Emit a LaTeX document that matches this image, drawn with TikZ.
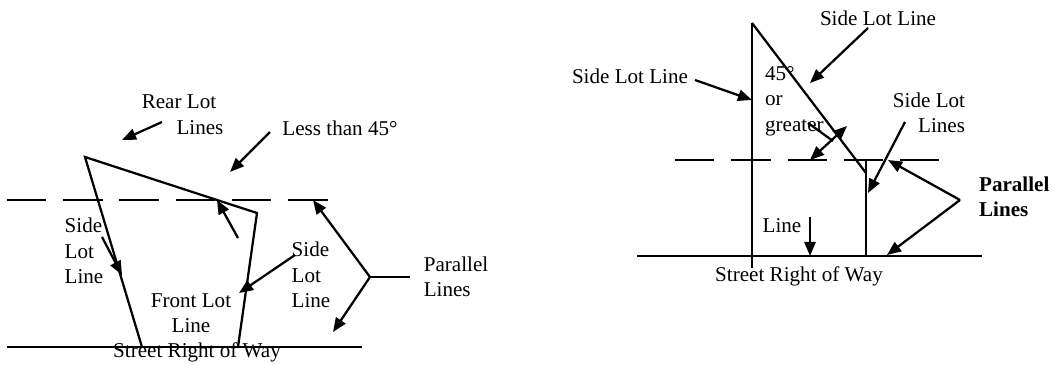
\documentclass[tikz,border=0pt]{standalone}
\usepackage{fontspec}
\setmainfont{Liberation Serif}
\usepackage{tikz}
\usetikzlibrary{arrows.meta, positioning}

\begin{document}
\begin{tikzpicture}[
  x=0.025cm, y=-0.025cm, line width=1.6pt,
  lbl/.style={font=\fontsize{15}{18}\selectfont, inner sep=0pt, align=center},
  ptr/.style={-{Triangle[length=10pt, width=8pt]}, line width=1.6pt},
  dptr/.style={{Triangle[length=10pt, width=8pt]}-{Triangle[length=10pt, width=8pt]}, line width=1.6pt},
  guide/.style={dash pattern=on 28pt off 12pt}
]
\useasboundingbox (0,0) rectangle (1053,364);

% left lot
\coordinate (fl) at (142,347);
\coordinate (rl) at (85,157);
\coordinate (rr) at (257,213);
\coordinate (fr) at (238,347);
\draw[guide] (7,200) coordinate (d1a) -- (333,200) coordinate (d1b);
\draw (7,347) coordinate (s1a) -- (362,347) coordinate (s1b);
\draw[line join=miter] (fl) -- (rl) -- (rr) -- (fr);

\node[lbl] (rear) at (179,102) {Rear Lot};
\node[lbl] (rearb) at (200,128) {Lines};
\node[lbl] (less) at (340,128) {Less than 45°};
\node[lbl, align=left] (lside) at (84,251) {Side\\Lot\\Line};
\node[lbl, align=left] (rside) at (311,275) {Side\\Lot\\Line};
\node[lbl] (front) at (191,313) {Front Lot\\Line};
\node[lbl] (street1) at (197,352) {Street Right of Way};
\node[lbl, align=left] (par1) at (456,277) {Parallel\\Lines};

\coordinate (rearS) at (162,122);   \coordinate (rearE) at (122,140);
\coordinate (lessS) at (270,132);   \coordinate (lessE) at (230,172);
\coordinate (angS) at (238,238);    \coordinate (angE) at (217,200);
\coordinate (lsS) at (102,237);     \coordinate (lsE) at (122,275);
\coordinate (rsS) at (295,255);     \coordinate (rsE) at (239,293);
\coordinate (pj1) at (370,277);     \coordinate (pt1) at (410,277);
\coordinate (pu1) at (313,200);     \coordinate (pd1) at (333,332);

\draw[ptr] (rearS) -- (rearE);
\draw[ptr] (lessS) -- (lessE);
\draw[ptr] (angS) -- (angE);
\draw[ptr] (lsS) -- (lsE);
\draw[ptr] (rsS) -- (rsE);
\draw (pt1) -- (pj1);
\draw[ptr] (pj1) -- (pu1);
\draw[ptr] (pj1) -- (pd1);

% right lot
\coordinate (vt) at (752,23);
\coordinate (vb) at (752,268);
\coordinate (dg) at (866,173);
\coordinate (st) at (866,160);
\coordinate (sb) at (866,256);
\draw[line width=1.9pt] (vt) -- (vb);
\draw (vt) -- (dg);
\draw (st) -- (sb);
\draw[guide] (675,160) coordinate (d2a) -- (943,160) coordinate (d2b);
\draw (637,256) coordinate (s2a) -- (982,256) coordinate (s2b);

\node[lbl] (sidetop) at (878,18) {Side Lot Line};
\node[lbl] (sideleft) at (630,76) {Side Lot Line};
\node[lbl, align=left, anchor=west] (angle) at (764,101) {45°\\or\\greater};
\node[lbl, align=right] (sidelines) at (929,113) {Side Lot\\Lines};
\node[lbl] (line2) at (782,226) {Line};
\node[lbl] (street2) at (799,276) {Street Right of Way};
\node[lbl, align=left, anchor=west, font=\fontsize{15}{18}\selectfont\bfseries] (par2) at (978,197) {Parallel\\Lines};

\coordinate (stS) at (868,28);      \coordinate (stE) at (810,83);
\coordinate (slS) at (695,80);      \coordinate (slE) at (752,100);
\coordinate (anA) at (810,160);     \coordinate (anB) at (847,126);
\coordinate (tkA) at (808,123);     \coordinate (tkB) at (833,141);
\coordinate (sxS) at (905,122);     \coordinate (sxE) at (868,193);
\coordinate (lnS) at (810,217);     \coordinate (lnE) at (810,256);
\coordinate (pj2) at (960,200);
\coordinate (pu2) at (888,160);     \coordinate (pd2) at (887,255);

\draw[ptr] (stS) -- (stE);
\draw[ptr] (slS) -- (slE);
\draw[dptr] (anA) -- (anB);
\draw (tkA) -- (tkB);
\draw[ptr] (sxS) -- (sxE);
\draw[ptr] (lnS) -- (lnE);
\draw[ptr] (pj2) -- (pu2);
\draw[ptr] (pj2) -- (pd2);

\end{tikzpicture}
\end{document}
